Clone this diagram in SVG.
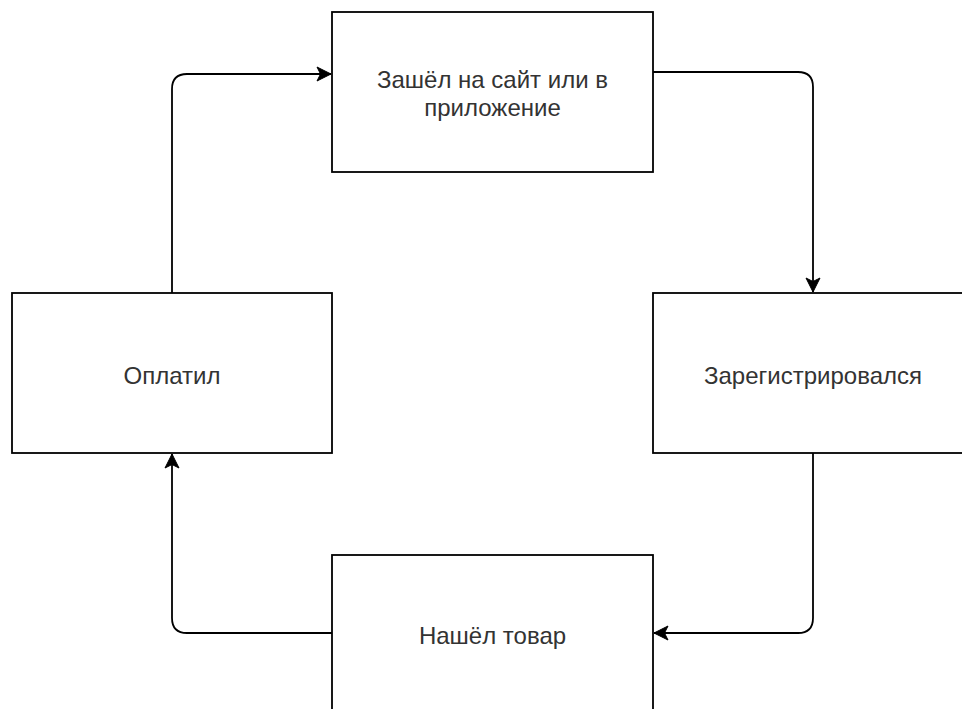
<svg xmlns="http://www.w3.org/2000/svg" width="962" height="709" viewBox="0 0 962 709">
  <style>
    .box { fill: #ffffff; stroke: #000000; stroke-width: 1.8; }
    .lbl { font-family: "Liberation Sans", Arial, sans-serif; font-size: 24px; fill: #333333; text-anchor: middle; }
    .edge { fill: none; stroke: #000000; stroke-width: 1.8; }
  </style>
  <defs>
    <marker id="arrow" markerUnits="userSpaceOnUse" markerWidth="16" markerHeight="16" viewBox="0 0 16 16" refX="15" refY="8" orient="auto">
      <path d="M1,1 L15,8 L1,15 L4.5,8 Z" fill="#000000" stroke="#000000" stroke-width="1"/>
    </marker>
  </defs>
  <rect width="962" height="709" fill="#ffffff"/>

  <g id="connectors">
    <path class="edge" d="M653,72 L798,72 Q813,72 813,87 L813,292" marker-end="url(#arrow)"/>
    <path class="edge" d="M813,453 L813,618 Q813,633 798,633 L654,633" marker-end="url(#arrow)"/>
    <path class="edge" d="M332,633 L187,633 Q172,633 172,618 L172,454" marker-end="url(#arrow)"/>
    <path class="edge" d="M172,293 L172,89 Q172,74 187,74 L331,74" marker-end="url(#arrow)"/>
  </g>

  <g id="node-site">
    <rect class="box" x="332" y="12" width="321" height="160"/>
    <text class="lbl" x="492.5" y="88">Зашёл на сайт или в</text>
    <text class="lbl" x="492.5" y="116">приложение</text>
  </g>

  <g id="node-registered">
    <rect class="box" x="653" y="293" width="320" height="160"/>
    <text class="lbl" x="813" y="384">Зарегистрировался</text>
  </g>

  <g id="node-found">
    <rect class="box" x="332" y="555" width="321" height="160"/>
    <text class="lbl" x="492.5" y="644">Нашёл товар</text>
  </g>

  <g id="node-paid">
    <rect class="box" x="12" y="293" width="320" height="160"/>
    <text class="lbl" x="172" y="384">Оплатил</text>
  </g>
</svg>
